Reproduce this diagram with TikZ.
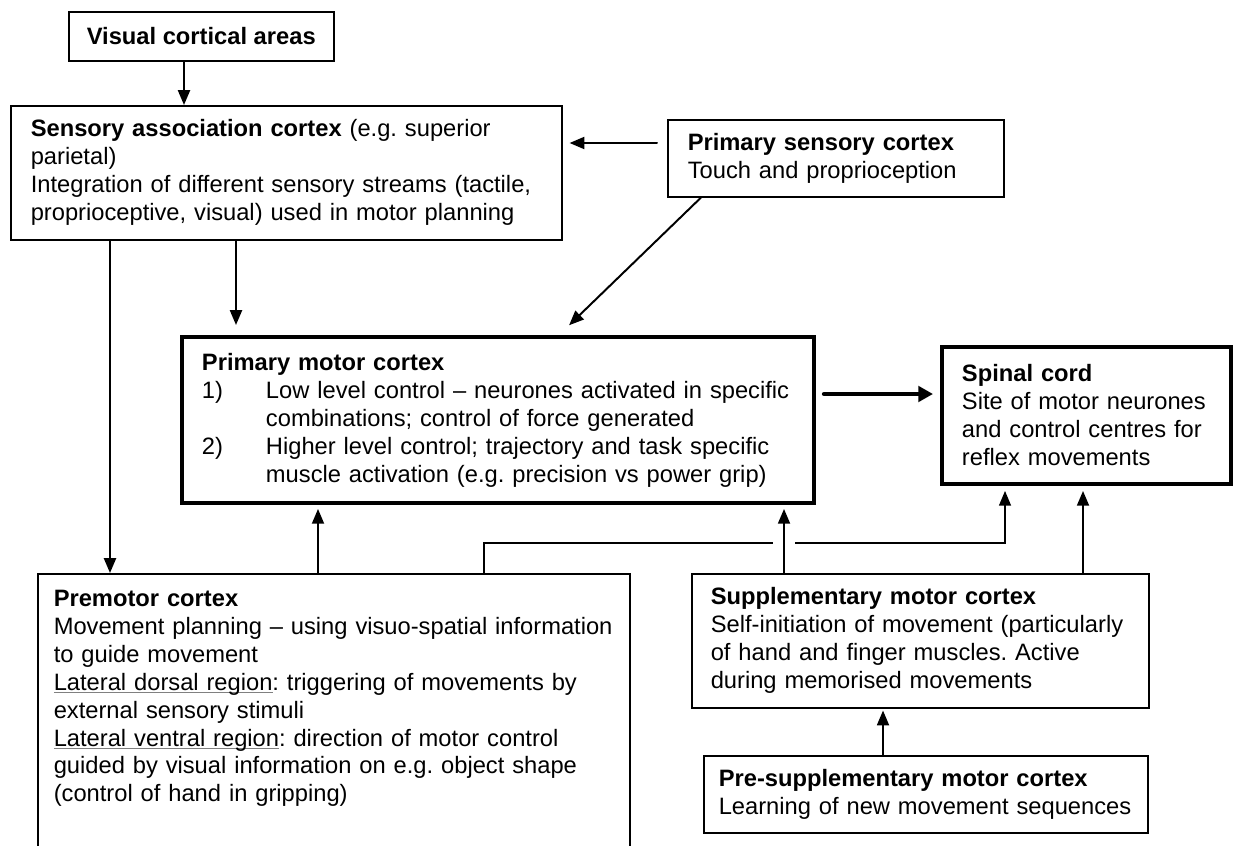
\documentclass[tikz,border=0pt]{standalone}
\usepackage{fontspec}
\setmainfont{Liberation Sans}
\usetikzlibrary{arrows.meta}
\newdimen\pix
\pix=0.025cm
\frenchspacing
\newcommand{\regline}[1]{\setbox0\hbox{#1}\makebox[0pt][l]{\color{gray}\rule[-2.2pt]{\wd0}{0.6pt}}\box0}

\begin{document}
\begin{tikzpicture}[line cap=round,x=0.025cm,y=-0.025cm,
  box/.style={draw, line width=1.1pt, anchor=north west, align=left, inner ysep=0pt,
    font=\fontsize{16.86pt}{19.9pt}\selectfont},
  thickbox/.style={box, line width=2.8pt},
  arr/.style={-{Triangle[length=10.5pt,width=8.5pt]}, line width=1.4pt},
  bigarr/.style={-{Triangle[length=10.5pt,width=11pt]}, line width=3pt}]
\useasboundingbox (0,0) rectangle (1233,846);
\clip (0,0) rectangle (1233,846);
\node[box, align=center, minimum width=265\pix, minimum height=49\pix] (vis) at (68,11) {\textbf{Visual cortical areas}};
\node[box, inner xsep=20\pix, text width=511\pix, minimum height=134\pix] (sac) at (10,105) {\textbf{Sensory association cortex} (e.g. superior\\parietal)\\Integration of different sensory streams (tactile,\\proprioceptive, visual) used in motor planning};
\node[box, inner xsep=20\pix, text width=296\pix, minimum height=77\pix] (psc) at (667,119) {\textbf{Primary sensory cortex}\\Touch and proprioception};
\node[thickbox, inner xsep=20\pix, text width=592\pix, minimum height=166\pix] (pmc) at (180,335) {\textbf{Primary motor cortex}\\\makebox[64\pix][l]{1)}Low level control – neurones activated in specific\\\hspace*{64\pix}combinations; control of force generated\\\makebox[64\pix][l]{2)}Higher level control; trajectory and task specific\\\hspace*{64\pix}muscle activation (e.g. precision vs power grip)};
\node[thickbox, inner xsep=20\pix, text width=249\pix, minimum height=137\pix] (sc) at (940,345) {\textbf{Spinal cord}\\Site of motor neurones\\and control centres for\\reflex movements};
\node[box, inner xsep=16\pix, inner ysep=16\pix, text width=560\pix, text depth=300\pix] (pm) at (37,573) {\textbf{Premotor cortex}\\Movement planning – using visuo-spatial information\\to guide movement\\\regline{Lateral dorsal region}: triggering of movements by\\external sensory stimuli\\\regline{Lateral ventral region}: direction of motor control\\guided by visual information on e.g. object shape\\(control of hand in gripping)};
\node[box, inner xsep=19\pix, text width=419\pix, minimum height=134\pix] (sma) at (691,573) {\textbf{Supplementary motor cortex}\\Self-initiation of movement (particularly\\of hand and finger muscles. Active\\during memorised movements};
\node[box, inner xsep=15\pix, text width=414\pix, minimum height=77\pix] (presma) at (703,755) {\textbf{Pre-supplementary motor cortex}\\Learning of new movement sequences};
\draw[arr] (184,0 |- vis.south) -- (184,0 |- sac.north);
\draw[arr, shorten <=10\pix, shorten >=7\pix] (psc.west |- 0,143) -- (sac.east |- 0,143);
\draw[arr, shorten >=14\pix] (701,0 |- psc.south) -- (559,0 |- pmc.north);
\draw[arr] (110,0 |- sac.south) -- (110,0 |- pm.north);
\draw[arr, shorten >=10\pix] (236,0 |- sac.south) -- (236,0 |- pmc.north);
\draw[bigarr, shorten <=8\pix, shorten >=7\pix] (pmc.east |- 0,394) -- (sc.west |- 0,394);
\draw[arr, shorten >=4\pix] (318,0 |- pm.north) -- (318,0 |- pmc.south);
\draw[arr, line width=1.1pt, shorten >=5\pix] (484,0 |- pm.north) |- (1005,543) -- (1005,0 |- sc.south);
\fill[white] (773,537) rectangle (795,549);
\draw[arr, shorten >=4\pix] (784,0 |- sma.north) -- (784,0 |- pmc.south);
\draw[arr, shorten >=5\pix] (1083,0 |- sma.north) -- (1083,0 |- sc.south);
\draw[arr, shorten >=2\pix] (883,0 |- presma.north) -- (883,0 |- sma.south);
\end{tikzpicture}
\end{document}
